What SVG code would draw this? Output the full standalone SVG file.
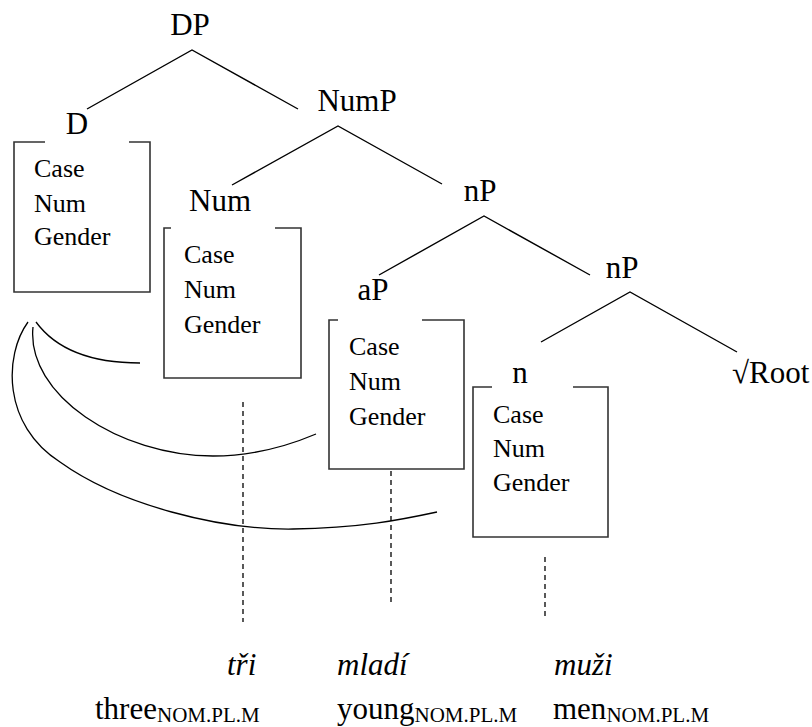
<svg xmlns="http://www.w3.org/2000/svg" width="812" height="727" viewBox="0 0 812 727" font-family="'Liberation Serif', 'DejaVu Serif', serif">
  <style>
    text { font-family: 'Liberation Serif', 'DejaVu Serif', serif; fill: #000; }
    .lbl { font-size: 31px; }
    .feat { font-size: 26px; }
    .it { font-style: italic; }
    .sub { font-size: 21px; }
    .branch { stroke: #000; stroke-width: 1.4; fill: none; }
    .box { stroke: #333; stroke-width: 1.6; fill: none; }
    .agree { stroke: #000; stroke-width: 1.3; fill: none; }
    .link { stroke: #000; stroke-width: 1.3; stroke-dasharray: 5 4; fill: none; }
  </style>
  <rect width="812" height="727" fill="#fff"/>

  <!-- tree branches, agreement arcs and vocabulary links -->
  <g id="connectors">
    <path class="branch" d="M87,109 L192,50 L298,109"/>
    <path class="branch" d="M232,185 L338,126 L442,184"/>
    <path class="branch" d="M379,275 L484,216 L590,275"/>
    <path class="branch" d="M541,342 L630,292 L737,352"/>

    <path class="agree" d="M36,322 C58,352 95,363 140,363"/>
    <path class="agree" d="M33,327 C26,395 120,456 213,456 C255,456 290,445 316,434"/>
    <path class="agree" d="M28,322 C4,355 2,425 60,462 C120,505 220,530 293,529 C360,528 400,520 437,512"/>

    <line class="link" x1="243" y1="402" x2="243" y2="622"/>
    <line class="link" x1="391" y1="471" x2="391" y2="606"/>
    <line class="link" x1="545" y1="557" x2="545" y2="616"/>
  </g>

  <g id="DP">
    <text class="lbl" x="190" y="35" text-anchor="middle">DP</text>
  </g>

  <g id="D">
    <text class="lbl" x="77" y="134" text-anchor="middle">D</text>
    <path class="box" d="M45,142 H14 V292 H150 V142 H129"/>
    <text class="feat" x="34" y="177">Case</text>
    <text class="feat" x="34" y="212">Num</text>
    <text class="feat" x="34" y="245">Gender</text>
  </g>

  <g id="NumP">
    <text class="lbl" x="357" y="111" text-anchor="middle">NumP</text>
  </g>

  <g id="Num">
    <text class="lbl" x="220" y="211" text-anchor="middle">Num</text>
    <path class="box" d="M171,228 H164 V378 H301 V228 H275"/>
    <text class="feat" x="184" y="263">Case</text>
    <text class="feat" x="184" y="298">Num</text>
    <text class="feat" x="184" y="333">Gender</text>
  </g>

  <g id="nP1">
    <text class="lbl" x="480" y="201" text-anchor="middle">nP</text>
  </g>

  <g id="aP">
    <text class="lbl" x="373" y="300" text-anchor="middle">aP</text>
    <path class="box" d="M338,320 H329 V469 H464 V320 H422"/>
    <text class="feat" x="349" y="355">Case</text>
    <text class="feat" x="349" y="390">Num</text>
    <text class="feat" x="349" y="425">Gender</text>
  </g>

  <g id="nP2">
    <text class="lbl" x="622" y="278" text-anchor="middle">nP</text>
  </g>

  <g id="n">
    <text class="lbl" x="520" y="383" text-anchor="middle">n</text>
    <path class="box" d="M492,387 H473 V537 H608 V387 H573"/>
    <text class="feat" x="493" y="423">Case</text>
    <text class="feat" x="493" y="457">Num</text>
    <text class="feat" x="493" y="491">Gender</text>
  </g>

  <g id="Root">
    <text class="lbl" x="732" y="383">√Root</text>
  </g>

  <!-- Czech words and their glosses -->
  <g id="gloss-tri">
    <text class="lbl it" x="227" y="675">tři</text>
    <text class="lbl" x="95" y="719">three<tspan class="sub" dy="3">NOM.PL.M</tspan></text>
  </g>
  <g id="gloss-mladi">
    <text class="lbl it" x="337" y="675">mladí</text>
    <text class="lbl" x="337" y="719">young<tspan class="sub" dy="3">NOM.PL.M</tspan></text>
  </g>
  <g id="gloss-muzi">
    <text class="lbl it" x="554" y="675">muži</text>
    <text class="lbl" x="553" y="719">men<tspan class="sub" dy="3">NOM.PL.M</tspan></text>
  </g>
</svg>
